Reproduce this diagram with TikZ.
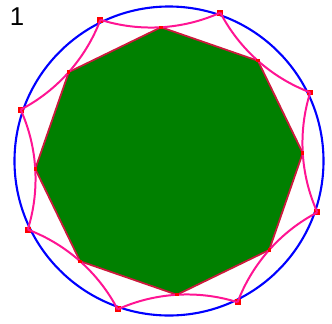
\documentclass[tikz,border=0pt]{standalone}
\usepackage{fontspec}
\setmainfont{Liberation Sans}
\usepackage{tikz}
\usetikzlibrary{positioning}

\definecolor{octgreen}{RGB}{0,128,0}
\definecolor{octedge}{RGB}{205,25,60}
\definecolor{arcpink}{RGB}{255,20,147}
\definecolor{ptred}{RGB}{255,0,0}

\begin{document}
\begin{tikzpicture}[
    x=0.03cm, y=0.03cm,
    ring/.style={draw=blue, line width=1.8pt},
    octa/.style={draw=octedge, fill=octgreen, line width=1.5pt, line join=miter},
    petal/.style={draw=arcpink, line width=1.7pt},
    outpt/.style={fill=ptred, inner sep=0pt, minimum size=5pt},
    inpt/.style={fill=ptred, inner sep=0pt, minimum size=2.8pt},
    lab/.style={font=\fontsize{22}{24}\selectfont, inner sep=0pt}
  ]
  \useasboundingbox (-169,-162) rectangle (163,161);

  % outer circle
  \node[ring, circle, minimum size=309*0.03cm, inner sep=0pt] (circ) at (0,0) {};

  % octagon
  \foreach \k in {0,...,7}
    \coordinate (v\k) at ({3.4+45*\k}:134);
  \draw[octa] (v0) -- (v1) -- (v2) -- (v3) -- (v4) -- (v5) -- (v6) -- (v7) -- cycle;

  % points on the circle
  \foreach \k in {0,...,7}
    \node[outpt] (p\k) at ({25.9+45*\k}:157) {};

  % arcs from point to point through the octagon corners
  \foreach \k in {0,...,7}
    \draw[petal] (p\k.center)
      arc[start angle={228.4+45*\k+20.85}, end angle={228.4+45*\k-20.85}, radius=168.85];

  \foreach \k in {0,...,7}
    \node[inpt] (c\k) at (v\k) {};

  \node[lab] (num) at (-152,144.5) {1};
\end{tikzpicture}
\end{document}
